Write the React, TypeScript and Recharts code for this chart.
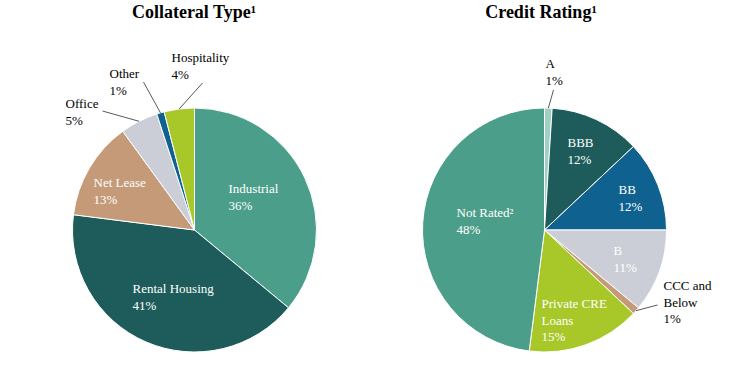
import { PieChart, Pie, Cell } from "recharts";

// Collateral Type (%)
const collateralNames = ["Industrial", "Rental Housing", "Net Lease", "Office", "Other", "Hospitality"];
const collateralValues = [36, 41, 13, 5, 1, 4];
const collateralColors = ["#4b9e8a", "#1d5c5a", "#c49a78", "#cbced6", "#0f6190", "#a8c82a"];

// Credit Rating (%)
const ratingNames = ["A", "BBB", "BB", "B", "CCC and\nBelow", "Private CRE\nLoans", "Not Rated²"];
const ratingValues = [1, 12, 12, 11, 1, 15, 48];
const ratingColors = ["#9fd0c0", "#1d5c5a", "#0f6190", "#cbced6", "#c49a78", "#a8c82a", "#4b9e8a"];

const collateralData = collateralNames.map((name, i) => ({ name, value: collateralValues[i] }));
const ratingData = ratingNames.map((name, i) => ({ name, value: ratingValues[i] }));

// label placement relative to pie centre: text block start (dx, dy of first line),
// optional leader line end (lx, ly) for labels sitting outside the pie
type LabelPos = { dx: number; dy: number; lx?: number; ly?: number };
const labelLayout: Record<string, LabelPos> = {
  Industrial: { dx: 34, dy: -42 },
  "Rental Housing": { dx: -62, dy: 58 },
  "Net Lease": { dx: -101, dy: -48 },
  Office: { dx: -129, dy: -127, lx: -92, ly: -119 },
  Other: { dx: -85, dy: -157, lx: -51, ly: -148 },
  Hospitality: { dx: -23, dy: -173, lx: 8, ly: -147 },
  A: { dx: 1, dy: -167, lx: 9, ly: -140 },
  BBB: { dx: 23, dy: -88 },
  BB: { dx: 74, dy: -41 },
  B: { dx: 69, dy: 20 },
  "CCC and\nBelow": { dx: 119, dy: 55, lx: 113, ly: 75 },
  "Private CRE\nLoans": { dx: -3, dy: 73 },
  "Not Rated²": { dx: -88, dy: -18 },
};

const RAD = Math.PI / 180;
const LINE_H = 16.5;
const SERIF = "'Liberation Serif', 'Times New Roman', serif";

function renderLabel(props: any) {
  const { cx, cy, midAngle, outerRadius, name, value } = props;
  const pos = labelLayout[name];
  if (!pos) return null;
  const outside = pos.lx !== undefined;
  const lines = [...String(name).split("\n"), `${value}%`];
  const x = cx + pos.dx;
  const ex = cx + outerRadius * Math.cos(-midAngle * RAD);
  const ey = cy + outerRadius * Math.sin(-midAngle * RAD);
  return (
    <g>
      {outside && (
        <line x1={ex} y1={ey} x2={cx + (pos.lx as number)} y2={cy + (pos.ly as number)} stroke="#595959" strokeWidth={1} />
      )}
      <text
        x={x}
        y={cy + pos.dy}
        fill={outside ? "#000" : "#fff"}
        style={{ fontFamily: SERIF, fontSize: 13 }}
        textAnchor="start"
        dominantBaseline="central"
      >
        {lines.map((l, i) => (
          <tspan key={i} x={x} dy={i === 0 ? 0 : LINE_H} style={{ fontFamily: SERIF }}>
            {l}
          </tspan>
        ))}
      </text>
    </g>
  );
}

const titleStyle: React.CSSProperties = {
  position: "absolute",
  top: 2,
  width: 240,
  textAlign: "center",
  fontFamily: SERIF,
  fontWeight: "bold",
  fontSize: 18,
  color: "#000",
};

export default function App() {
  return (
    <div style={{ position: "absolute", left: 0, top: 0, width: 749, height: 376, background: "#fff" }}>
      <PieChart width={749} height={376} margin={{ top: 0, right: 0, bottom: 0, left: 0 }}>
        <Pie
          data={collateralData}
          dataKey="value"
          nameKey="name"
          cx={194.5}
          cy={230}
          outerRadius={122}
          startAngle={90}
          endAngle={-270}
          stroke="#fff"
          strokeWidth={1}
          label={renderLabel}
          labelLine={false}
          isAnimationActive={false}
        >
          {collateralData.map((d, i) => (
            <Cell key={d.name} fill={collateralColors[i]} />
          ))}
        </Pie>
        <Pie
          data={ratingData}
          dataKey="value"
          nameKey="name"
          cx={544.5}
          cy={230}
          outerRadius={122}
          startAngle={90}
          endAngle={-270}
          stroke="#fff"
          strokeWidth={1}
          label={renderLabel}
          labelLine={false}
          isAnimationActive={false}
        >
          {ratingData.map((d, i) => (
            <Cell key={d.name} fill={ratingColors[i]} />
          ))}
        </Pie>
      </PieChart>
      <div style={{ ...titleStyle, left: 194 - 120 }}>Collateral Type¹</div>
      <div style={{ ...titleStyle, left: 541 - 120 }}>Credit Rating¹</div>
    </div>
  );
}
